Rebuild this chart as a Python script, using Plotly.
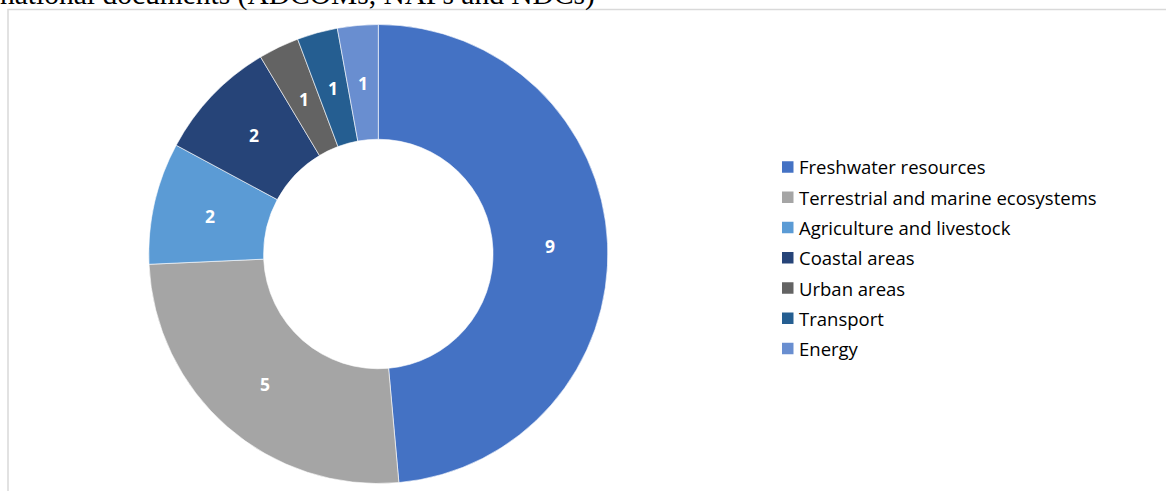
import math
import plotly.graph_objects as go

# ---- data ----
categories = [
    "Freshwater resources",
    "Terrestrial and marine ecosystems",
    "Agriculture and livestock",
    "Coastal areas",
    "Urban areas",
    "Transport",
    "Energy",
]
# slice sizes as measured from the angles in the picture
slice_values = [17, 9, 3, 3, 1, 1, 1]
# numbers printed on the slices
label_values = ["9", "5", "2", "2", "1", "1", "1"]
colors = ["#4472C4", "#A5A5A5", "#5B9BD5", "#264478", "#636363", "#255E91", "#698ED0"]
caption = "national documents (ADCOMs, NAPs and NDCs)"

W, H = 1166, 491
CX, CY, R = 378.3, 254.0, 229.5   # donut centre / radius in page pixels
HOLE = 0.5

fig = go.Figure()
fig.add_trace(go.Pie(
    labels=categories,
    values=slice_values,
    text=label_values,
    textinfo="none",
    hovertemplate="%{label}: %{text}<extra></extra>",
    sort=False,
    direction="clockwise",
    rotation=0,
    hole=HOLE,
    marker=dict(colors=colors, line=dict(color="white", width=0.6)),
    domain=dict(x=[(CX - R) / W, (CX + R) / W], y=[1 - (CY + R) / H, 1 - (CY - R) / H]),
    showlegend=False,
))

shapes = []
annotations = []

# data labels at the middle of each ring segment, derived from the slice values
total = sum(slice_values)
rmid = R * (1 + HOLE) / 2
cum = 0.0
for v, lab in zip(slice_values, label_values):
    ang = math.radians((cum + v / 2) / total * 360)
    cum += v
    px = CX + rmid * math.sin(ang)
    py = CY - rmid * math.cos(ang)
    annotations.append(dict(text=lab, xref="paper", yref="paper",
                            x=px / W, y=1 - py / H, xanchor="center", yanchor="middle",
                            showarrow=False,
                            font=dict(family="Open Sans", size=17.5, color="white", weight="bold")))

# chart frame (light gray border)
shapes.append(dict(type="rect", xref="paper", yref="paper",
                   x0=8 / W, x1=1.05, y0=-0.1, y1=1 - 9.5 / H,
                   line=dict(color="#D9D9D9", width=1.5), fillcolor="rgba(0,0,0,0)",
                   layer="below"))

# custom legend
row0, step = 167.0, 30.25
for i, (name, col) in enumerate(zip(categories, colors)):
    yc = row0 + i * step
    shapes.append(dict(type="rect", xref="paper", yref="paper",
                       x0=782 / W, x1=793.5 / W,
                       y0=1 - (yc + 5.75) / H, y1=1 - (yc - 5.75) / H,
                       line=dict(width=0), fillcolor=col))
    annotations.append(dict(text=name, xref="paper", yref="paper",
                            x=797 / W, y=1 - yc / H, xanchor="left", yanchor="middle",
                            showarrow=False,
                            font=dict(family="Open Sans", size=18.5, color="#000000")))

# cut-off caption at the top
annotations.append(dict(text=caption, xref="paper", yref="paper",
                        x=-2 / W, y=1 + 5.5 / H, xanchor="left", yanchor="middle",
                        showarrow=False,
                        font=dict(family="Liberation Serif", size=29.5, color="#000000")))

fig.update_layout(
    width=W, height=H,
    margin=dict(l=0, r=0, t=0, b=0),
    paper_bgcolor="white",
    plot_bgcolor="white",
    shapes=shapes,
    annotations=annotations,
)

fig.write_html("out.html")
